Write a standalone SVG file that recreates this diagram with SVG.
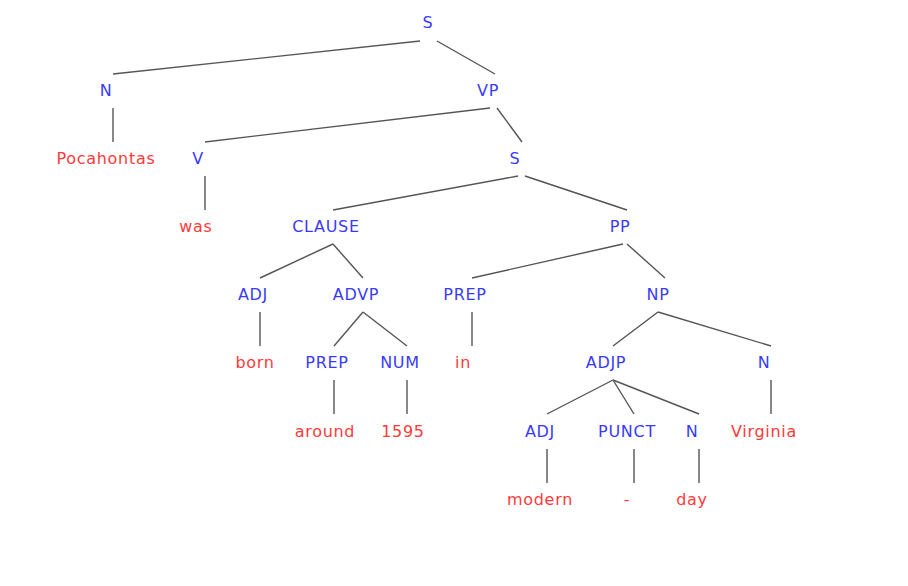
<svg xmlns="http://www.w3.org/2000/svg" width="908" height="586" viewBox="0 0 908 586">
<style>
text{font-family:"DejaVu Sans",sans-serif;font-size:16px;letter-spacing:0.7px;text-anchor:middle}
.c{fill:#3a3aff}.w{fill:#ff3a3a}
line{stroke:#555;stroke-width:1.4}
</style>
<rect width="908" height="586" fill="#fff"/>
<g id="connectors">
<line x1="420" y1="41" x2="113" y2="74"/>
<line x1="437" y1="41" x2="495" y2="74"/>
<line x1="113" y1="108" x2="113" y2="142"/>
<line x1="490" y1="108" x2="205" y2="142"/>
<line x1="497" y1="108" x2="522" y2="142"/>
<line x1="205" y1="176" x2="205" y2="210"/>
<line x1="518" y1="176" x2="333" y2="210"/>
<line x1="525" y1="176" x2="627" y2="210"/>
<line x1="333" y1="244" x2="260" y2="278"/>
<line x1="333" y1="244" x2="363" y2="278"/>
<line x1="623" y1="244" x2="472" y2="278"/>
<line x1="627" y1="244" x2="665" y2="278"/>
<line x1="260" y1="312" x2="260" y2="346"/>
<line x1="363" y1="312" x2="334" y2="346"/>
<line x1="363" y1="312" x2="407" y2="346"/>
<line x1="472" y1="312" x2="472" y2="346"/>
<line x1="658" y1="312" x2="613" y2="346"/>
<line x1="658" y1="312" x2="771" y2="346"/>
<line x1="334" y1="380" x2="334" y2="414"/>
<line x1="407" y1="380" x2="407" y2="414"/>
<line x1="613" y1="380" x2="547" y2="414"/>
<line x1="613" y1="380" x2="634" y2="414"/>
<line x1="613" y1="380" x2="699" y2="414"/>
<line x1="771" y1="380" x2="771" y2="414"/>
<line x1="547" y1="449" x2="547" y2="483"/>
<line x1="634" y1="449" x2="634" y2="483"/>
<line x1="699" y1="449" x2="699" y2="483"/>
</g>
<g id="n1"><text class="c" x="428" y="28">S</text></g>
<g id="n2"><text class="c" x="106" y="96">N</text></g>
<g id="n3"><text class="c" x="488" y="96">VP</text></g>
<g id="n4"><text class="w" x="106" y="164">Pocahontas</text></g>
<g id="n5"><text class="c" x="198" y="164">V</text></g>
<g id="n6"><text class="c" x="515" y="164">S</text></g>
<g id="n7"><text class="w" x="196" y="232">was</text></g>
<g id="n8"><text class="c" x="326" y="232">CLAUSE</text></g>
<g id="n9"><text class="c" x="620" y="232">PP</text></g>
<g id="n10"><text class="c" x="253" y="300">ADJ</text></g>
<g id="n11"><text class="c" x="356" y="300">ADVP</text></g>
<g id="n12"><text class="c" x="465" y="300">PREP</text></g>
<g id="n13"><text class="c" x="658" y="300">NP</text></g>
<g id="n14"><text class="w" x="255" y="368">born</text></g>
<g id="n15"><text class="c" x="327" y="368">PREP</text></g>
<g id="n16"><text class="c" x="400" y="368">NUM</text></g>
<g id="n17"><text class="w" x="463" y="368">in</text></g>
<g id="n18"><text class="c" x="606" y="368">ADJP</text></g>
<g id="n19"><text class="c" x="764" y="368">N</text></g>
<g id="n20"><text class="w" x="325" y="437">around</text></g>
<g id="n21"><text class="w" x="403" y="437">1595</text></g>
<g id="n22"><text class="c" x="540" y="437">ADJ</text></g>
<g id="n23"><text class="c" x="627" y="437">PUNCT</text></g>
<g id="n24"><text class="c" x="692" y="437">N</text></g>
<g id="n25"><text class="w" x="764" y="437">Virginia</text></g>
<g id="n26"><text class="w" x="540" y="505">modern</text></g>
<g id="n27"><text class="w" x="627" y="505">-</text></g>
<g id="n28"><text class="w" x="692" y="505">day</text></g>
</svg>
